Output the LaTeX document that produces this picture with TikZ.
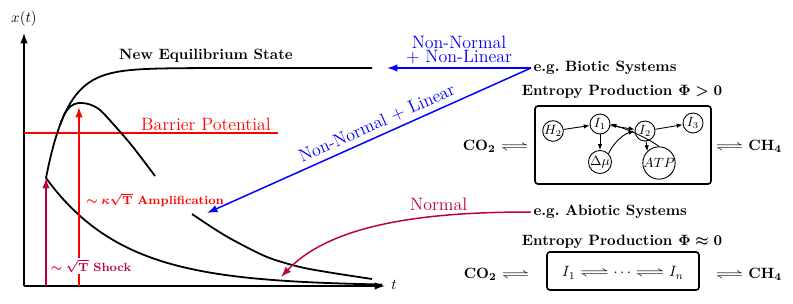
\documentclass[tikz,border=0pt]{standalone}
\usepackage{amsmath,amssymb,graphicx}
\usetikzlibrary{arrows.meta}
\newcommand\longeq[1]{\mathrel{\scalebox{#1}[1]{$\rightleftharpoons$}}}
\tikzset{
  curve/.style={line width=1.2pt},
  axisline/.style={line width=0.9pt,-{Latex[length=7pt,width=5pt]}},
  bigarrow/.style={line width=1pt,-{Latex[length=7pt,width=5pt]}},
  lbl/.style={font=\bfseries\boldmath},
  sys/.style={font=\bfseries\boldmath, inner sep=1.5pt},
  mol/.style={draw, circle, line width=0.6pt, inner sep=0pt, minimum size=13.4pt, font=\small},
  netarrow/.style={line width=0.6pt, -{Latex[length=4pt,width=3pt]}},
  boxframe/.style={line width=1.1pt, rounded corners=2pt},
  rowtext/.style={font=\bfseries\boldmath, inner sep=0pt},
}
\begin{document}
\begin{tikzpicture}[x=0.67pt,y=-0.67pt]
\useasboundingbox (0,0) rectangle (793,303);
% axes
\coordinate (O) at (24,286);
\coordinate (ytip) at (24,33);
\coordinate (xtip) at (385,286);
\draw[axisline] (O) -- (ytip);
\draw[axisline] (O) -- (xtip);
\node (xlab) at (24,19) {$x(t)$};
\node (tlab) at (394,285) {$t$};
% barrier
\coordinate (barL) at (24,133);
\coordinate (barR) at (278,133);
\draw[red, line width=1pt] (barL) -- (barR);
\node[red, font=\large] (barlab) at (206,124) {Barrier Potential};
\node[lbl] (neq) at (206,56) {New Equilibrium State};
% curves
\draw[curve] plot[domain=46:372, samples=120] (\x,{68+110*exp(-(\x-46)/21.3)});
\draw[curve] plot[smooth] coordinates {(60,125) (65,113) (71,106) (77,103.3) (82,103) (90,104.5) (100,110) (115,126) (133,147) (155,176)};
\draw[curve] plot[domain=46:382, samples=120] (\x,{286-108*exp(-(\x-46)/78.6)});
\draw[curve] plot[smooth] coordinates {(192,214) (213,228) (233,240) (267,257) (300,267) (333,273) (372,279)};
% vertical arrows
\coordinate (s0) at (46,286);
\coordinate (s1) at (46,178);
\draw[purple, bigarrow] (s0) -- (s1);
\coordinate (a0) at (79,286);
\coordinate (a1) at (79,107);
\draw[red, bigarrow] (a0) -- (a1);
\node[red, font=\footnotesize\bfseries\boldmath, anchor=west] (amp) at (81,200) {$\sim\kappa\sqrt{\mathbf{T}}$ Amplification};
\node[purple, font=\footnotesize\bfseries\boldmath, anchor=west, fill=white, inner sep=1pt] (shock) at (49,266) {$\sim\sqrt{\mathbf{T}}$ Shock};
% systems
\node[sys, anchor=west] (bio) at (531,68) {e.g.\ Biotic Systems};
\node[sys, anchor=west] (abio) at (531,212) {e.g.\ Abiotic Systems};
\coordinate (b1) at (387,68);
\coordinate (b2) at (207,213);
\draw[blue, bigarrow] (bio.west) -- (b1) node[midway, above, align=center, font=\large, inner sep=2pt]{Non-Normal\\[-4.5pt]+ Non-Linear};
\draw[blue, bigarrow] (bio.west) -- (b2) node[pos=0.46, above, sloped, font=\large]{Non-Normal + Linear};
\coordinate (n1) at (281,277);
\draw[purple, bigarrow] (abio.west) .. controls (440,212) and (335,220) .. (n1) node[pos=0.33, above, font=\large]{Normal};
% entropy titles
\node[lbl] (ep1) at (622,92) {Entropy Production $\Phi>0$};
\node[lbl] (ep2) at (622,242) {Entropy Production $\Phi\approx0$};
% biotic box
\draw[boxframe] (535,106) rectangle (711,184);
\node[mol] (H2) at (553,131) {$H_2$};
\node[mol] (I1) at (600,124) {$I_1$};
\node[mol] (I2) at (645,131) {$I_2$};
\node[mol] (I3) at (693,123) {$I_3$};
\node[mol, minimum size=15.4pt] (dmu) at (600,162) {$\Delta\mu$};
\node[mol, minimum size=18.5pt] (atp) at (659,163) {$ATP$};
\draw[netarrow] (H2) -- (I1);
\draw[netarrow] (I1) -- (dmu);
\draw[netarrow] (I1) -- (I2);
\draw[netarrow] (I2) -- (I3);
\draw[netarrow] (dmu.north east) .. controls (614,142) and (624,134) .. (I2.west);
\draw[netarrow] (atp.north) .. controls (650,140) and (635,132) .. (I1.east);
\draw[netarrow] (I2) -- (atp.north west);
\node[rowtext, anchor=east] (co2a) at (529,146) {$\mathbf{CO}_2 \longeq{1.9}$};
\node[rowtext, anchor=west] (ch4a) at (715,146) {$\longeq{1.9} \mathbf{CH}_4$};
% abiotic box
\draw[boxframe] (547,252) rectangle (699,290);
\node (chain) at (623,273) {$I_1 \longeq{2} \cdots \longeq{2} I_n$};
\node[rowtext, anchor=east] (co2b) at (530,274) {$\mathbf{CO}_2 \longeq{1.9}$};
\node[rowtext, anchor=west] (ch4b) at (715,274) {$\longeq{1.9} \mathbf{CH}_4$};
\end{tikzpicture}
\end{document}
